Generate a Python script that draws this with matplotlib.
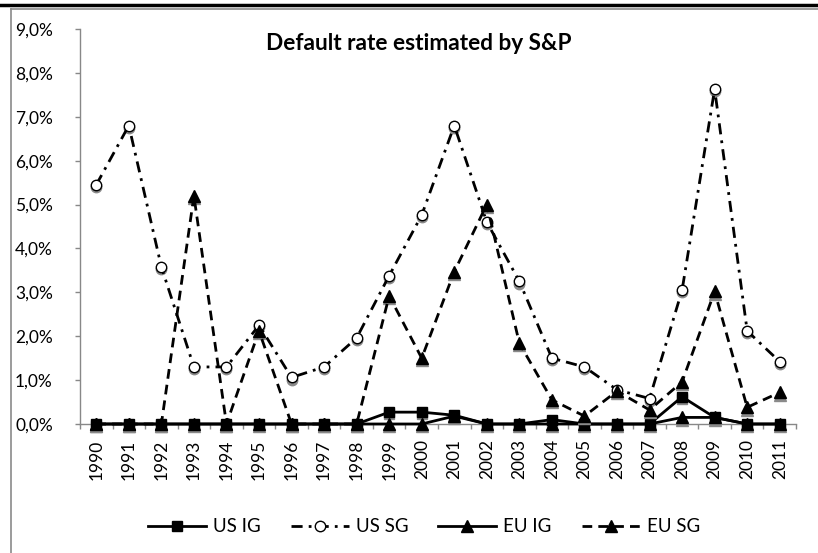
import matplotlib
matplotlib.use("Agg")
import matplotlib.pyplot as plt
from matplotlib.lines import Line2D
from matplotlib.ticker import FixedLocator, FuncFormatter
import matplotlib.transforms as mtransforms

plt.rcParams['font.family'] = ['Lato', 'DejaVu Sans']

years = [str(y) for y in range(1990, 2012)]
us_ig = [0, 0, 0, 0, 0, 0, 0, 0, 0, 0.27, 0.27, 0.2, 0, 0, 0.1, 0, 0, 0, 0.62, 0.15, 0, 0]
us_sg = [5.45, 6.8, 3.58, 1.3, 1.3, 2.25, 1.06, 1.3, 1.96, 3.38, 4.76, 6.8, 4.6, 3.25, 1.5, 1.3, 0.78, 0.58, 3.05, 7.63, 2.12, 1.42]
eu_ig = [0, 0, 0, 0, 0, 0, 0, 0, 0, 0, 0, 0.18, 0, 0, 0, 0, 0, 0, 0.15, 0.15, 0, 0]
eu_sg = [0, 0, 0, 5.2, 0, 2.12, 0, 0, 0, 2.92, 1.5, 3.47, 5.0, 1.84, 0.55, 0.18, 0.75, 0.32, 0.96, 3.02, 0.38, 0.72]
series_names = ["US IG", "US SG", "EU IG", "EU SG"]

W, H = 818, 553
fig = plt.figure(figsize=(W / 100, H / 100), dpi=100)
ax = fig.add_axes([80 / W, 1 - 424 / H, (796 - 80) / W, (424 - 29) / H])

x = list(range(len(years)))
dash_dot = (0, (4, 2.2, 1, 2.2))
dashed = (0, (3.5, 2.2))
styles = [
    dict(ls='-', marker='s', mfc='black', mec='black', ms=7),
    dict(ls=dash_dot, marker='o', mfc='white', mec='black', ms=7.5, mew=1.0),
    dict(ls='-', marker='^', mfc='black', mec='black', ms=8.5),
    dict(ls=dashed, marker='^', mfc='black', mec='black', ms=8.5),
]
data = [us_ig, us_sg, eu_ig, eu_sg]

shadow = mtransforms.offset_copy(ax.transData, fig=fig, x=0, y=-2.2, units='dots')
handles = []
for i, (vals, st, name) in enumerate(zip(data, styles, series_names)):
    ax.plot(x, vals, ls='none', marker=st['marker'], ms=st['ms'], mfc='#8a8a8a',
            mec='#8a8a8a', transform=shadow, zorder=2 + i * 2, clip_on=False)
    h, = ax.plot(x, vals, color='black', lw=2.0, zorder=3 + i * 2, clip_on=False,
                 label=name, **st)
    handles.append(h)

ax.set_xlim(-0.5, len(years) - 0.5)
ax.set_ylim(0, 9)
ax.yaxis.set_major_locator(FixedLocator([i for i in range(10)]))
ax.yaxis.set_major_formatter(FuncFormatter(lambda v, p: f"{v:.1f}".replace('.', ',') + "%"))
ax.set_xticks(x)
ax.set_xticklabels(years, rotation=90)
ax.xaxis.set_minor_locator(FixedLocator([i - 0.5 for i in range(len(years) + 1)]))
ax.tick_params(axis='x', which='major', length=0, pad=11, labelsize=12.5)
ax.tick_params(axis='x', which='minor', length=3.6, color='#888888', width=1)
ax.tick_params(axis='y', which='major', length=3.6, color='#888888', width=1, labelsize=12.5,
               pad=43.2)
for lbl in ax.get_yticklabels():
    lbl.set_horizontalalignment('left')
for s in ['top', 'right']:
    ax.spines[s].set_visible(False)
for s in ['left', 'bottom']:
    ax.spines[s].set_color('#888888')
    ax.spines[s].set_linewidth(1)

fig.text(419 / W, 1 - 43 / H, "Default rate estimated by S&P", ha='center', va='center',
         fontsize=16.3, fontweight='bold')

fig.legend(handles=handles, loc='center', bbox_to_anchor=(424 / W, 1 - 527 / H), ncol=4,
           frameon=False, handlelength=3.1, columnspacing=1.6, fontsize=13.5, handletextpad=0.37)

# outer chart frame
fig.add_artist(Line2D([0, 1], [1 - 4.5 / H, 1 - 4.5 / H], color='black', lw=2.5, transform=fig.transFigure))
fig.add_artist(Line2D([11 / W, 1], [1 - 9 / H, 1 - 9 / H], color='#8a8a8a', lw=1.2, transform=fig.transFigure))
fig.add_artist(Line2D([11 / W, 11 / W], [0, 1 - 9 / H], color='#8a8a8a', lw=1.2, transform=fig.transFigure))

fig.savefig("out.png", dpi=100)
